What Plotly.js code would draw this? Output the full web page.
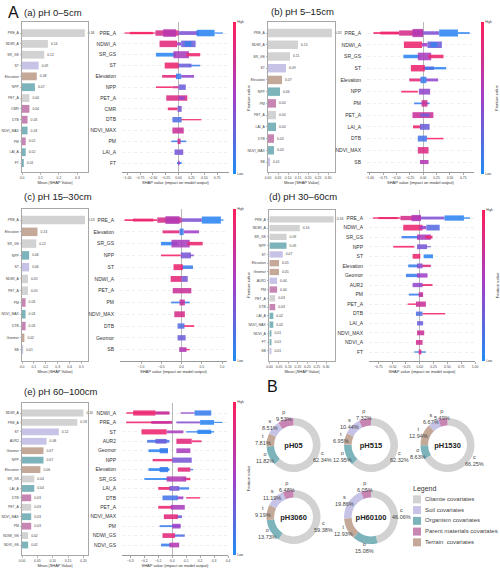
<!DOCTYPE html>
<html>
<head>
<meta charset="utf-8">
<script src="https://cdn.plot.ly/plotly-3.0.1.min.js"></script>
<style>
  html, body { margin: 0; padding: 0; background: #fff; }
  #chart { width: 500px; height: 570px; }
</style>
</head>
<body>
<div id="chart"></div>
<script>
// ---------- covariate groups ----------
const groupKeys   = ['c', 's', 'o', 'p', 't'];
const groupNames  = ['Cliamte covariates', 'Soil covariates', 'Organism covariates',
                     'Parent materials covariates', 'Terrain  covariates'];
const featureGroup = {
  PRE_A: 'c', NDWI_A: 'c', SR_GS: 'c', PET_A: 'c', NDWI_GS: 'c',
  ST: 's', SB: 's', AUR2: 's',
  NPP: 'o', NDVI_MAX: 'o', LAI_A: 'o', FT: 'o', NDVI_A: 'o', NDVI_GS: 'o',
  CMR: 'p', DTB: 'p', PM: 'p',
  Elevation: 't', Geomor: 't'
};

// ---------- mean |SHAP| per depth ----------
const featA = ['PRE_A','NDWI_A','SR_GS','ST','Elevation','NPP','PET_A','CMR','DTB','NDVI_MAX','PM','LAI_A','FT'];
const meanA = [0.34, 0.14, 0.12, 0.09, 0.08, 0.07, 0.04, 0.04, 0.03, 0.03, 0.02, 0.02, 0.01];

const featB = ['PRE_A','NDWI_A','SR_GS','ST','Elevation','NPP','PM','PET_A','LAI_A','DTB','NDVI_MAX','SB'];
const meanB = [0.32, 0.15, 0.11, 0.09, 0.07, 0.06, 0.04, 0.04, 0.04, 0.03, 0.03, 0.01];

const featC = ['PRE_A','Elevation','SR_GS','NPP','ST','NDWI_A','PET_A','PM','NDVI_MAX','DTB','Geomor','SB'];
const meanC = [0.53, 0.13, 0.12, 0.06, 0.06, 0.05, 0.05, 0.03, 0.03, 0.03, 0.02, 0.01];

const featD = ['PRE_A','NDWI_A','SR_GS','NPP','ST','Elevation','Geomor','AUR2','PM','PET_A','DTB','LAI_A','NDVI_MAX','NDVI_A','FT','SB'];
const meanD = [0.34, 0.16, 0.09, 0.09, 0.07, 0.05, 0.05, 0.04, 0.04, 0.03, 0.03, 0.02, 0.02, 0.01, 0.01, 0.01];
const swFeatD = ['PRE_A','NDWI_A','SR_GS','NPP','ST','Elevation','Geomor','AUR2','PM','PET_A','DTB','LAI_A','NDVI_MAX','NDVI_A','FT'];

const featE = ['NDWI_A','PRE_A','ST','AUR2','Geomor','NPP','Elevation','SR_GS','LAI_A','DTB','PET_A','NDVI_MAX','PM','NDWI_GS','NDVI_GS'];
const meanE = [0.20, 0.18, 0.12, 0.08, 0.07, 0.07, 0.06, 0.04, 0.04, 0.03, 0.03, 0.03, 0.03, 0.02, 0.02];

// ---------- SHAP value spread per feature ----------
// each run: [shap from, shap to, band thickness (rows), feature value 0=low..1=high]
const swarmA = [
  [[-1.05,-0.45,0.12,0.95],[-0.95,-0.5,0.22,0.95],[-0.45,0.0,0.5,0.78],[-0.3,-0.05,0.7,0.62],[0.0,0.4,0.35,0.38],[0.35,0.7,0.6,0.05],[0.7,0.86,0.12,0.05]],
  [[-0.37,-0.03,0.6,0.85],[-0.03,0.05,0.3,0.5],[0.05,0.33,0.6,0.3],[0.12,0.25,0.45,0.1]],
  [[-0.44,-0.05,0.35,0.05],[-0.1,0.2,0.65,0.55],[0.15,0.42,0.3,0.9]],
  [[0.2,0.42,0.15,0.1],[-0.02,0.25,0.35,0.3],[-0.27,0.0,0.55,0.9]],
  [[-0.32,-0.03,0.25,0.85],[0.05,0.3,0.25,0.45],[-0.05,0.05,0.5,0.1]],
  [[-0.44,-0.12,0.15,0.95],[-0.12,0.0,0.2,0.8],[0.0,0.14,0.5,0.3]],
  [[-0.24,0.17,0.5,0.8],[0.0,0.12,0.3,0.45]],
  [[-0.21,-0.02,0.25,0.9],[-0.02,0.06,0.55,0.35]],
  [[0.05,0.44,0.12,0.95],[-0.12,0.06,0.5,0.2]],
  [[-0.12,0.1,0.55,0.72]],
  [[-0.14,0.15,0.15,0.1],[-0.02,0.04,0.5,0.75]],
  [[-0.08,0.09,0.5,0.35]],
  [[-0.03,0.06,0.18,0.1],[-0.01,0.02,0.4,0.5]]
];
const swarmB = [
  [[-0.93,-0.45,0.15,0.95],[-0.8,-0.45,0.25,0.9],[-0.45,0.0,0.45,0.78],[-0.2,0.0,0.7,0.6],[0.0,0.3,0.3,0.38],[0.3,0.65,0.6,0.05],[0.65,0.87,0.15,0.05]],
  [[-0.36,-0.02,0.55,0.9],[-0.02,0.08,0.3,0.5],[0.08,0.35,0.55,0.3],[0.14,0.26,0.4,0.1]],
  [[-0.37,-0.05,0.3,0.05],[-0.1,0.15,0.65,0.55],[0.1,0.38,0.3,0.9]],
  [[0.0,0.43,0.2,0.05],[0.0,0.2,0.3,0.2],[-0.23,0.03,0.55,0.9]],
  [[-0.26,-0.04,0.25,0.85],[0.05,0.28,0.25,0.45],[-0.05,0.06,0.55,0.1]],
  [[-0.41,-0.1,0.15,0.95],[-0.08,0.13,0.5,0.45]],
  [[-0.17,0.12,0.15,0.1],[-0.03,0.08,0.55,0.75]],
  [[-0.2,0.19,0.5,0.72],[-0.05,0.12,0.25,0.3]],
  [[-0.19,-0.04,0.25,0.9],[-0.06,0.12,0.5,0.3]],
  [[0.06,0.38,0.13,0.95],[-0.1,0.07,0.5,0.15]],
  [[-0.1,0.1,0.55,0.82]],
  [[-0.06,0.1,0.35,0.6]]
];
const swarmC = [
  [[-1.41,-0.6,0.15,0.95],[-1.2,-0.7,0.25,0.9],[-0.6,0.0,0.45,0.78],[-0.4,-0.05,0.65,0.6],[0.0,0.5,0.3,0.38],[0.5,0.97,0.6,0.05],[0.97,1.03,0.12,0.05]],
  [[-0.47,-0.05,0.25,0.85],[0.05,0.43,0.25,0.5],[-0.05,0.05,0.55,0.1]],
  [[-0.51,-0.1,0.3,0.05],[-0.25,0.2,0.65,0.55],[0.15,0.52,0.3,0.9]],
  [[-0.51,-0.02,0.15,0.95],[0.2,0.3,0.15,0.4],[-0.02,0.23,0.5,0.35]],
  [[0.0,0.28,0.3,0.1],[-0.2,0.03,0.5,0.9]],
  [[-0.27,0.0,0.5,0.85],[0.0,0.15,0.5,0.35]],
  [[-0.22,0.24,0.45,0.72]],
  [[-0.26,0.2,0.15,0.1],[-0.05,0.08,0.5,0.7]],
  [[-0.18,0.08,0.5,0.78]],
  [[0.05,0.31,0.15,0.95],[-0.1,0.07,0.45,0.2]],
  [[-0.1,0.1,0.45,0.3]],
  [[0.05,0.2,0.12,0.9],[-0.06,0.12,0.4,0.6]]
];
const swarmD = [
  [[-0.85,-0.35,0.15,0.95],[-0.75,-0.4,0.22,0.9],[-0.35,0.02,0.45,0.78],[-0.15,0.02,0.65,0.58],[0.02,0.45,0.3,0.38],[0.45,0.8,0.55,0.05],[0.8,0.91,0.15,0.05]],
  [[-0.3,0.05,0.6,0.9],[0.0,0.12,0.35,0.5],[0.12,0.36,0.6,0.22]],
  [[-0.33,0.0,0.25,0.1],[-0.05,0.2,0.55,0.55],[0.1,0.23,0.3,0.9]],
  [[-0.48,-0.1,0.18,0.95],[0.1,0.2,0.12,0.3],[-0.05,0.13,0.5,0.35]],
  [[-0.13,0.01,0.5,0.9],[0.07,0.24,0.4,0.05]],
  [[-0.21,-0.02,0.3,0.1],[0.03,0.2,0.25,0.85],[-0.05,0.05,0.5,0.4]],
  [[-0.25,0.0,0.35,0.1],[-0.05,0.14,0.45,0.5]],
  [[0.03,0.23,0.2,0.9],[-0.13,0.05,0.45,0.45]],
  [[-0.2,0.05,0.2,0.1],[-0.02,0.06,0.5,0.7]],
  [[-0.22,-0.05,0.15,0.95],[-0.07,0.11,0.55,0.72]],
  [[0.05,0.46,0.15,0.95],[-0.07,0.05,0.45,0.2]],
  [[-0.05,0.06,0.45,0.3]],
  [[-0.05,0.08,0.5,0.72]],
  [[-0.07,0.05,0.5,0.75]],
  [[-0.1,0.11,0.15,0.1],[-0.02,0.03,0.5,0.8]]
];
const swarmE = [
  [[-0.33,-0.02,0.15,0.9],[-0.28,-0.12,0.55,0.9],[-0.12,-0.02,0.35,0.7],[0.06,0.16,0.15,0.45],[0.16,0.28,0.55,0.1]],
  [[-0.33,-0.02,0.2,0.9],[-0.15,0.0,0.3,0.7],[0.03,0.2,0.2,0.4],[0.2,0.3,0.5,0.05],[0.3,0.36,0.12,0.05]],
  [[0.1,0.3,0.15,0.05],[-0.04,0.08,0.3,0.55],[0.18,0.28,0.45,0.05],[-0.22,-0.04,0.55,0.9]],
  [[-0.18,-0.02,0.3,0.15],[-0.12,-0.04,0.5,0.3],[0.14,0.21,0.2,0.9],[0.03,0.14,0.55,0.85]],
  [[-0.17,-0.03,0.3,0.05],[-0.09,-0.03,0.55,0.1],[0.03,0.13,0.5,0.55]],
  [[-0.14,0.0,0.25,0.9],[0.0,0.14,0.55,0.35]],
  [[-0.17,-0.02,0.3,0.05],[-0.09,-0.03,0.55,0.1],[0.13,0.15,0.15,0.1],[0.04,0.13,0.45,0.85]],
  [[-0.2,-0.02,0.2,0.05],[0.08,0.13,0.25,0.9],[-0.04,0.1,0.55,0.6]],
  [[-0.1,-0.01,0.3,0.9],[0.04,0.12,0.25,0.1],[-0.02,0.05,0.5,0.35]],
  [[0.1,0.2,0.15,0.95],[0.03,0.08,0.3,0.5],[-0.07,0.04,0.5,0.15]],
  [[-0.1,0.0,0.3,0.9],[-0.01,0.09,0.5,0.55]],
  [[0.03,0.07,0.3,0.3],[-0.06,0.04,0.5,0.85]],
  [[-0.09,0.06,0.2,0.1],[0.0,0.06,0.5,0.5]],
  [[0.01,0.09,0.25,0.2],[-0.07,0.02,0.5,0.85]],
  [[-0.08,-0.01,0.3,0.1],[-0.02,0.05,0.5,0.6]]
];

// ---------- axis ticks ----------
const barTicksA = [0, 0.1, 0.2, 0.3];
const barTicksB = [0, 0.05, 0.10, 0.15, 0.20, 0.25, 0.30];
const barTicksC = [0, 0.1, 0.2, 0.3, 0.4, 0.5];
const barTicksD = [0, 0.05, 0.10, 0.15, 0.20, 0.25, 0.30];
const barTicksE = [0, 0.05, 0.10, 0.15, 0.20];
const shapTicksA = [-1.0, -0.75, -0.5, -0.25, 0, 0.25, 0.5, 0.75];
const shapTicksB = [-1.0, -0.75, -0.5, -0.25, 0, 0.25, 0.5, 0.75];
const shapTicksC = [-1.0, -0.5, 0, 0.5, 1.0];
const shapTicksD = [-0.75, -0.5, -0.25, 0, 0.25, 0.5, 0.75, 1.0];
const shapTicksE = [-0.3, -0.2, -0.1, 0, 0.1, 0.2, 0.3, 0.4];

// ---------- share of importance per covariate group (%) ----------
const pieNames  = ['pH05', 'pH515', 'pH1530', 'pH3060', 'pH60100'];
const pieKeys   = ['c', 'o', 't', 's', 'p'];
const pieShares = [
  [62.34, 11.82, 7.81, 8.51, 9.53],
  [62.32, 12.95, 6.95, 10.44, 7.32],
  [66.25, 8.63, 12.94, 6.67, 5.49],
  [59.38, 13.73, 9.19, 11.19, 6.48],
  [46.06, 15.08, 12.93, 19.86, 6.05]
];

// ---------- styling ----------
const FONT = 'Arial, "Liberation Sans", sans-serif';
const groupColor = { c: '#D2D2D2', s: '#C6C3E7', o: '#7DB4BC', p: '#C785B3', t: '#C4A898' };
const shapScale = [[0, '#1E8CF5'], [0.5, '#A040C8'], [1, '#FF1E5A']];
const W = 500, H = 570;
const px = v => v / W;
const py = v => 1 - v / H;

const panels = [
  { title: '(a) pH 0–5cm', tx: 22, ty: 13, feat: featA, mean: meanA, swFeat: featA, swarm: swarmA,
    bar: { x: [22, 88], y: [22, 172], range: [0, 0.357], ticks: barTicksA, fmt: '.1f', yr: [12.83, -1.02] },
    sw:  { x: [122, 229], y: [22, 172], range: [-1.10, 0.98], ticks: shapTicksA, fmt: '.2f', yr: [12.83, -1.02] },
    cb:  { x: 233, y: [22, 174] } },
  { title: '(b) pH 5–15cm', tx: 269, ty: 12, feat: featB, mean: meanB, swFeat: featB, swarm: swarmB,
    bar: { x: [268, 335], y: [22, 172], range: [0, 0.335], ticks: barTicksB, fmt: '.2f', yr: [11.85, -0.94] },
    sw:  { x: [367, 474], y: [22, 172], range: [-1.05, 0.95], ticks: shapTicksB, fmt: '.2f', yr: [11.85, -0.94] },
    cb:  { x: 481, y: [22, 174] } },
  { title: '(c) pH 15–30cm', tx: 22, ty: 197, feat: featC, mean: meanC, swFeat: featC, swarm: swarmC,
    bar: { x: [22, 88], y: [209, 361], range: [0, 0.555], ticks: barTicksC, fmt: '.1f', yr: [11.97, -0.94] },
    sw:  { x: [120, 227], y: [209, 361], range: [-1.52, 1.12], ticks: shapTicksC, fmt: '.1f', yr: [11.97, -0.94] },
    cb:  { x: 233, y: [209, 361] } },
  { title: '(d) pH 30–60cm', tx: 267, ty: 197, feat: featD, mean: meanD, swFeat: swFeatD, swarm: swarmD,
    bar: { x: [269, 335], y: [210, 361], range: [-0.003, 0.347], ticks: barTicksD, fmt: '.2f', yr: [16.14, -1.06] },
    sw:  { x: [369, 475], y: [210, 361], range: [-0.92, 1.0], ticks: shapTicksD, fmt: '.2f', yr: [14.94, -0.84] },
    cb:  { x: 482, y: [210, 361] } },
  { title: '(e) pH 60–100cm', tx: 22, ty: 391, feat: featE, mean: meanE, swFeat: featE, swarm: swarmE,
    bar: { x: [22, 88], y: [403, 555], range: [0, 0.215], ticks: barTicksE, fmt: '.2f', yr: [15.06, -1.06] },
    sw:  { x: [122, 228], y: [403, 555], range: [-0.36, 0.40], ticks: shapTicksE, fmt: '.1f', yr: [15.06, -1.06] },
    cb:  { x: 233, y: [402, 555] } }
];

const pieCenters = [[293.5, 445], [371, 445], [447.5, 445], [293.5, 517], [371, 517]];
const pieR = 27;
const pieLabelR = 31;

const traces = [];
const layout = {
  width: W, height: H,
  margin: { l: 0, r: 0, t: 0, b: 0 },
  paper_bgcolor: '#fff', plot_bgcolor: 'rgba(0,0,0,0)',
  font: { family: FONT, color: '#333' },
  showlegend: false,
  barmode: 'overlay',
  annotations: []
};
const ax = n => (n === 1 ? '' : String(n));

panels.forEach((P, i) => {
  const nb = 2 * i + 1, ns = 2 * i + 2;
  const caxis = 'coloraxis' + (i === 0 ? '' : String(i + 1));

  // mean |SHAP| bars
  traces.push({
    type: 'bar', orientation: 'h',
    x: P.mean, y: P.feat,
    xaxis: 'x' + ax(nb), yaxis: 'y' + ax(nb),
    width: 0.72,
    marker: { color: P.feat.map(f => groupColor[featureGroup[f]]), line: { width: 0 } },
    texttemplate: '%{x:.2f}', textposition: 'outside', constraintext: 'none',
    textfont: { size: 3.4, color: '#444', family: FONT },
    cliponaxis: false, hoverinfo: 'skip'
  });
  layout['xaxis' + ax(nb)] = {
    domain: [px(P.bar.x[0]), px(P.bar.x[1])], range: P.bar.range, anchor: 'y' + ax(nb),
    tickmode: 'array', tickvals: P.bar.ticks, tickformat: P.bar.fmt,
    ticks: 'outside', ticklen: 1.5, tickwidth: 0.5, tickcolor: '#777',
    tickfont: { size: 3.4, color: '#444' },
    showline: true, mirror: true, linecolor: '#a8a8a8', linewidth: 1,
    showgrid: false, zeroline: false, fixedrange: true,
    title: { text: 'Mean |SHAP Value|', font: { size: 4, color: '#333' }, standoff: 1 }
  };
  layout['yaxis' + ax(nb)] = {
    domain: [py(P.bar.y[1]), py(P.bar.y[0])], range: P.bar.yr, anchor: 'x' + ax(nb),
    type: 'category', tickmode: 'array', tickvals: P.feat, ticktext: P.feat,
    ticks: 'outside', ticklen: 1.5, tickwidth: 0.5, tickcolor: '#777',
    tickfont: { size: 3.4, color: '#444' },
    showline: true, mirror: true, linecolor: '#a8a8a8', linewidth: 1,
    showgrid: false, zeroline: false, fixedrange: true
  };

  // SHAP value spread, coloured by feature value
  const sx = [], sb = [], sy = [], sw = [], sc = [];
  P.swarm.forEach((runs, r) => {
    runs.forEach(([a, b, h, c]) => {
      sx.push(b - a); sb.push(a); sy.push(P.swFeat[r]); sw.push(h); sc.push(c);
    });
  });
  traces.push({
    type: 'bar', orientation: 'h',
    x: sx, base: sb, y: sy, width: sw,
    xaxis: 'x' + ax(ns), yaxis: 'y' + ax(ns),
    marker: { color: sc, coloraxis: caxis, line: { width: 0 }, opacity: 0.88 },
    hoverinfo: 'skip'
  });
  layout['xaxis' + ax(ns)] = {
    domain: [px(P.sw.x[0]), px(P.sw.x[1])], range: P.sw.range, anchor: 'y' + ax(ns),
    tickmode: 'array', tickvals: P.sw.ticks, tickformat: P.sw.fmt,
    ticks: 'outside', ticklen: 2, tickwidth: 0.5, tickcolor: '#555',
    tickfont: { size: 3.4, color: '#444' },
    showline: true, linecolor: '#555', linewidth: 0.6,
    showgrid: false, zeroline: true, zerolinecolor: '#9a9a9a', zerolinewidth: 0.7,
    fixedrange: true,
    title: { text: 'SHAP value (impact on model output)', font: { size: 4, color: '#333' }, standoff: 1 }
  };
  layout['yaxis' + ax(ns)] = {
    domain: [py(P.sw.y[1]), py(P.sw.y[0])], range: P.sw.yr, anchor: 'x' + ax(ns),
    type: 'category', tickmode: 'array', tickvals: P.swFeat, ticktext: P.swFeat,
    ticks: '', ticklabelstandoff: 5,
    tickfont: { size: 5, color: '#333' },
    showline: false, zeroline: false,
    showgrid: true, gridcolor: '#dedede', gridwidth: 0.5, griddash: 'dot',
    fixedrange: true
  };
  layout[caxis] = {
    cmin: 0, cmax: 1, colorscale: shapScale,
    colorbar: {
      x: px(P.cb.x), xanchor: 'left', xpad: 0, ypad: 0,
      y: py((P.cb.y[0] + P.cb.y[1]) / 2), yanchor: 'middle',
      len: P.cb.y[1] - P.cb.y[0], lenmode: 'pixels',
      thickness: 2.5, outlinewidth: 0,
      tickmode: 'array', tickvals: [0, 1], ticktext: ['Low', 'High'], ticks: '',
      tickfont: { size: 3.2, color: '#333' },
      title: { text: 'Feature value', side: 'right', font: { size: 4.2, color: '#333' } }
    }
  };

  layout.annotations.push({
    xref: 'paper', yref: 'paper', x: px(P.tx), y: py(P.ty),
    xanchor: 'left', yanchor: 'middle', showarrow: false,
    text: P.title, font: { size: 9.5, color: '#222' }
  });
});

// group share donuts, labelled at each slice's mid angle
pieNames.forEach((name, i) => {
  const [cx, cy] = pieCenters[i];
  const shares = pieShares[i];
  const total = shares.reduce((s, v) => s + v, 0);
  traces.push({
    type: 'pie', values: shares, labels: pieKeys,
    textinfo: 'none',
    hole: 0.72, sort: false, direction: 'clockwise', rotation: 0,
    marker: { colors: pieKeys.map(k => groupColor[k]), line: { width: 0 } },
    domain: { x: [px(cx - pieR), px(cx + pieR)], y: [py(cy + pieR), py(cy - pieR)] },
    title: { text: '<b>' + name + '</b>', font: { size: 7.5, color: '#222' } },
    showlegend: false, hoverinfo: 'skip'
  });
  let acc = 0;
  shares.forEach((v, k) => {
    const mid = (acc + v / 2) / total * 2 * Math.PI;
    acc += v;
    layout.annotations.push({
      xref: 'paper', yref: 'paper',
      x: px(cx + pieLabelR * Math.sin(mid)), y: py(cy - pieLabelR * Math.cos(mid)),
      xanchor: 'center', yanchor: 'middle', showarrow: false,
      text: pieKeys[k] + '<br>' + v.toFixed(2) + '%',
      font: { size: 5.5, color: '#444' }
    });
  });
});

// group legend
const legRows = groupKeys.map((k, i) => i);
traces.push({
  type: 'scatter', mode: 'markers', x: groupKeys.map(() => 7), y: legRows,
  xaxis: 'x11', yaxis: 'y11',
  marker: { symbol: 'square', size: 8, color: groupKeys.map(k => groupColor[k]) },
  hoverinfo: 'skip', cliponaxis: false
});
traces.push({
  type: 'scatter', mode: 'text', x: groupKeys.map(() => 15), y: legRows,
  xaxis: 'x11', yaxis: 'y11',
  text: groupNames, textposition: 'middle right',
  textfont: { size: 6, color: '#444', family: FONT },
  marker: { size: 1 }, hoverinfo: 'skip', cliponaxis: false
});
layout.xaxis11 = { domain: [px(410), px(500)], range: [0, 90], anchor: 'y11', visible: false, fixedrange: true };
layout.yaxis11 = { domain: [py(547.7), py(494)], range: [4.5, -0.5], anchor: 'x11', visible: false, fixedrange: true };

layout.annotations.push(
  { xref: 'paper', yref: 'paper', x: px(6), y: py(13), xanchor: 'left', yanchor: 'middle', showarrow: false,
    text: 'A', font: { size: 16, color: '#111' } },
  { xref: 'paper', yref: 'paper', x: px(265), y: py(386), xanchor: 'left', yanchor: 'middle', showarrow: false,
    text: 'B', font: { size: 16, color: '#111' } },
  { xref: 'paper', yref: 'paper', x: px(411), y: py(489), xanchor: 'left', yanchor: 'middle', showarrow: false,
    text: 'Legend', font: { size: 7, color: '#333' } }
);

Plotly.newPlot('chart', traces, layout, { displayModeBar: false, staticPlot: true });
</script>
</body>
</html>
